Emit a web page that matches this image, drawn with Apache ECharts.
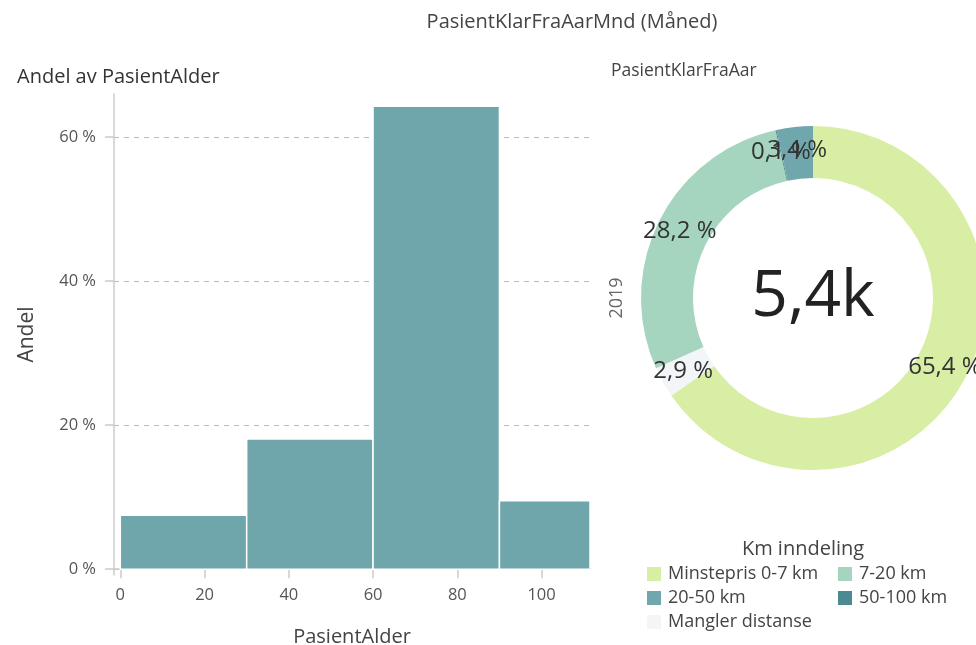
<!DOCTYPE html>
<html>
<head>
<meta charset="utf-8">
<script src="https://cdn.jsdelivr.net/npm/echarts@6/dist/echarts.min.js"></script>
<style>
  html, body { margin: 0; padding: 0; background: #fff; }
  #chart { width: 976px; height: 645px; }
</style>
</head>
<body>
<div id="chart"></div>
<script>
// Histogram data (PasientAlder bins, share in %)
const binStart = [0, 30, 60, 90];
const binEnd = [30, 60, 90, 120];
const andel = [7.5, 18.1, 64.3, 9.5];
const xTicks = [0, 20, 40, 60, 80, 100];
const yTicks = [0, 20, 40, 60];

// Donut data (Km inndeling), in drawing order clockwise from 12 o'clock
const kmNames = ['Minstepris 0-7 km', 'Mangler distanse', '7-20 km', '50-100 km', '20-50 km'];
const kmShares = [65.4, 2.9, 28.2, 0.1, 3.4];
const kmColors = ['#d9eea5', '#f3f6f9', '#a5d4bf', '#4a8a90', '#6fa7ad'];
const legendCol1 = ['Minstepris 0-7 km', '20-50 km', 'Mangler distanse'];
const legendCol2 = ['7-20 km', '50-100 km'];
const totalLabel = '5,4k';
const yearLabel = '2019';

const FONT = '"Open Sans", sans-serif';
const barColor = '#6fa6ac';

const chart = echarts.init(document.getElementById('chart'), null, { renderer: 'canvas' });

const histData = binStart.map((s, i) => [s, binEnd[i], andel[i]]);
const pieData = kmNames.map((n, i) => ({ name: n, value: kmShares[i], itemStyle: { color: kmColors[i] } }));
const fmtPct = v => String(v).replace('.', ',') + ' %';

const legendCommon = {
  orient: 'vertical',
  top: 565,
  itemWidth: 14,
  itemHeight: 14,
  itemGap: 6,
  icon: 'rect',
  selectedMode: false,
  textStyle: { fontFamily: FONT, fontSize: 18, lineHeight: 18, color: '#444', padding: [0, 0, 0, 2] },
  padding: 0
};

chart.setOption({
  animation: false,
  textStyle: { fontFamily: FONT },
  title: [
    { text: 'PasientKlarFraAarMnd (Måned)', left: 567, top: 7, textAlign: 'center',
      textStyle: { fontFamily: FONT, fontSize: 20, fontWeight: 'normal', color: '#444' } },
    { text: 'PasientKlarFraAar', left: 606, top: 57,
      textStyle: { fontFamily: FONT, fontSize: 17.5, fontWeight: 'normal', color: '#444' } },
    { text: 'Andel av PasientAlder', left: 12, top: 62,
      textStyle: { fontFamily: FONT, fontSize: 20, fontWeight: 'normal', color: '#333' } },
    { text: 'Km inndeling', left: 798, top: 534, textAlign: 'center',
      textStyle: { fontFamily: FONT, fontSize: 20, fontWeight: 'normal', color: '#444' } }
  ],
  legend: [
    Object.assign({}, legendCommon, { left: 647, data: legendCol1 }),
    Object.assign({}, legendCommon, { left: 838, data: legendCol2 })
  ],
  grid: { left: 114, right: 386, top: 94, bottom: 70, outerBoundsMode: 'none', containLabel: false },
  xAxis: {
    type: 'value',
    min: -1.5,
    max: 111.5,
    name: 'PasientAlder',
    nameLocation: 'middle',
    nameGap: 52,
    nameTextStyle: { fontFamily: FONT, fontSize: 20, color: '#444' },
    axisLine: { show: true, onZero: true, lineStyle: { color: '#ccc', width: 1.5 } },
    axisTick: { show: true, length: 9, customValues: xTicks, lineStyle: { color: '#ccc', width: 1.5 } },
    axisLabel: { customValues: xTicks, margin: 12, fontFamily: FONT, fontSize: 16.5, color: '#555' },
    splitLine: { show: false }
  },
  yAxis: {
    type: 'value',
    min: -0.8,
    max: 66,
    name: 'Andel',
    nameLocation: 'middle',
    nameGap: 76,
    nameRotate: 90,
    nameTextStyle: { fontFamily: FONT, fontSize: 21, color: '#444' },
    axisLine: { show: true, onZero: false, lineStyle: { color: '#ccc', width: 1.5 } },
    axisTick: { show: true, length: 9, customValues: yTicks, lineStyle: { color: '#ccc', width: 1.5 } },
    axisLabel: { customValues: yTicks, margin: 18, fontFamily: FONT, fontSize: 16.5, color: '#555',
      formatter: v => v + ' %' },
    splitLine: { show: true, lineStyle: { color: '#bbb', type: [5, 5], width: 1 } }
  },
  graphic: [
    { type: 'text', rotation: Math.PI / 2,
      style: { text: yearLabel, fontFamily: FONT, fontSize: 18, fill: '#666', align: 'center', verticalAlign: 'middle' },
      x: 617, y: 298 }
  ],
  series: [
    {
      type: 'custom',
      clip: true,
      data: histData,
      encode: { x: [0, 1], y: 2 },
      renderItem: function (params, api) {
        const p0 = api.coord([api.value(0), api.value(2)]);
        const p1 = api.coord([api.value(1), 0]);
        const cs = params.coordSys;
        const rect = echarts.graphic.clipRectByRect(
          { x: p0[0], y: p0[1], width: p1[0] - p0[0], height: p1[1] - p0[1] },
          { x: cs.x, y: cs.y, width: cs.width, height: cs.height }
        );
        if (!rect) return null;
        return { type: 'rect', shape: rect, style: { fill: barColor, stroke: '#fff', lineWidth: 1.5 } };
      }
    },
    {
      type: 'pie',
      center: [813, 298],
      radius: [120, 172],
      startAngle: 90,
      clockwise: true,
      avoidLabelOverlap: false,
      minShowLabelAngle: 0,
      silent: true,
      data: pieData,
      labelLayout: { hideOverlap: false },
      label: {
        show: true,
        position: 'inside',
        fontFamily: FONT,
        fontSize: 24,
        color: '#333',
        overflow: 'none',
        formatter: p => fmtPct(p.value)
      },
      labelLine: { show: false },
      itemStyle: { borderWidth: 0 }
    },
    {
      type: 'pie',
      center: [813, 298],
      radius: [0, 1],
      silent: true,
      data: [{ value: 1, name: 'total', itemStyle: { color: 'rgba(0,0,0,0)' } }],
      label: {
        show: true,
        position: 'center',
        formatter: totalLabel,
        fontFamily: FONT,
        fontSize: 64,
        color: '#222'
      },
      labelLine: { show: false }
    }
  ]
});
</script>
</body>
</html>
